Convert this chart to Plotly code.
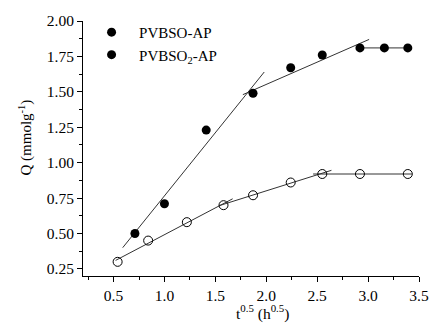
import plotly.graph_objects as go

# Data
x_filled = [0.71, 1.00, 1.41, 1.87, 2.24, 2.55, 2.92, 3.16, 3.39]
q_filled = [0.50, 0.71, 1.23, 1.49, 1.67, 1.76, 1.81, 1.81, 1.81]
x_open = [0.54, 0.84, 1.22, 1.58, 1.87, 2.24, 2.55, 2.92, 3.39]
q_open = [0.30, 0.45, 0.58, 0.70, 0.77, 0.86, 0.92, 0.92, 0.92]

# fitted line segments (x pairs, y pairs)
fit_filled = [([0.59, 1.98], [0.40, 1.64]), ([1.77, 3.01], [1.48, 1.87]), ([2.92, 3.39], [1.81, 1.81])]
fit_open = [([0.52, 1.67], [0.31, 0.745]), ([1.54, 2.64], [0.697, 0.946]), ([2.46, 3.43], [0.92, 0.92])]

names = ["PVBSO-AP", "PVBSO<sub>2</sub>-AP"]
x_title = "t<sup>0.5</sup> (h<sup>0.5</sup>)"
y_title = "Q (mmolg<sup>-1</sup>)"

FONT = "Liberation Serif"
fig = go.Figure()

for xs, ys in fit_filled + fit_open:
    fig.add_trace(go.Scatter(x=xs, y=ys, mode="lines", line=dict(color="#333333", width=1),
                             showlegend=False, hoverinfo="skip"))

fig.add_trace(go.Scatter(x=x_filled, y=q_filled, mode="markers", name="  " + names[0],
                         marker=dict(symbol="circle", size=9, color="black")))
fig.add_trace(go.Scatter(x=x_open, y=q_open, mode="markers", name="  " + names[1], showlegend=False,
                         marker=dict(symbol="circle-open", size=9, color="black", line=dict(width=1))))
# legend markers in the reference are both filled: legend-only proxy
fig.add_trace(go.Scatter(x=[None], y=[None], mode="markers", name="  " + names[1],
                         marker=dict(symbol="circle", size=9, color="black")))

axis_common = dict(showline=True, linecolor="black", linewidth=1, ticks="outside", ticklen=5,
                   tickcolor="black", showgrid=False, zeroline=False, mirror=False,
                   tickfont=dict(family=FONT, size=15.5, color="black"),
                   minor=dict(ticks="outside", ticklen=3, tickcolor="black"))

fig.update_xaxes(range=[0.2, 3.5], dtick=0.5, tickformat=".1f", minor_dtick=0.25, **axis_common)
fig.update_yaxes(range=[0.2, 2.0], dtick=0.25, tickformat=".2f", minor_dtick=0.125, **axis_common)

fig.add_annotation(text=x_title, xref="paper", yref="paper", x=0.535, y=-0.145,
                   showarrow=False, xanchor="center", yanchor="middle",
                   font=dict(family=FONT, size=15.5, color="black"))
fig.add_annotation(text=y_title, xref="paper", yref="paper", x=-0.172, y=0.544, textangle=-90,
                   showarrow=False, xanchor="center", yanchor="middle",
                   font=dict(family=FONT, size=15, color="black"))

fig.update_layout(
    width=441, height=328,
    margin=dict(l=83, r=14, t=17, b=52),
    plot_bgcolor="white", paper_bgcolor="white",
    showlegend=True,
    legend=dict(x=0.0255, y=1.02, xanchor="left", yanchor="top", bgcolor="rgba(0,0,0,0)",
                font=dict(family=FONT, size=15, color="black"), itemwidth=30, tracegroupgap=0),
)

fig.write_html("out.html")
